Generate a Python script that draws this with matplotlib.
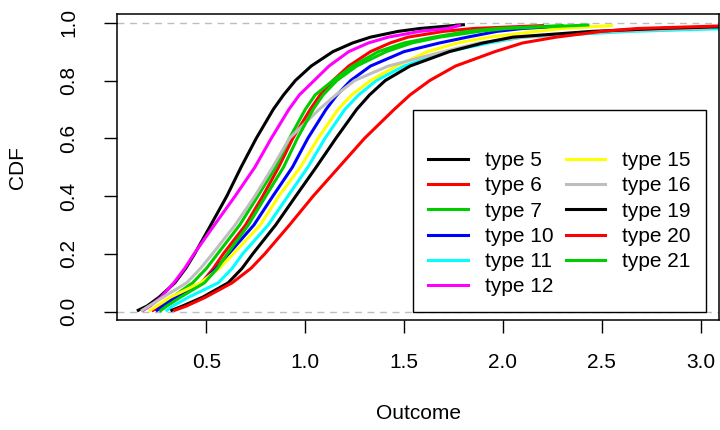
import numpy as np
import matplotlib
matplotlib.use("Agg")
import matplotlib.pyplot as plt

plt.rcParams['font.family'] = ['Liberation Sans', 'DejaVu Sans']

cdf_levels = [0.005, 0.02, 0.05, 0.1, 0.15, 0.2, 0.3, 0.4, 0.5, 0.6,
              0.7, 0.75, 0.8, 0.85, 0.9, 0.93, 0.95, 0.97, 0.98]

labels = ["type 5", "type 6", "type 7", "type 10", "type 11", "type 12",
          "type 15", "type 16", "type 19", "type 20", "type 21"]
colors = ["#000000", "#FF0000", "#00CD00", "#0000FF", "#00FFFF", "#FF00FF",
          "#FFFF00", "#BEBEBE", "#000000", "#FF0000", "#00CD00"]

# outcome value of each type at the cdf levels above
q_type5 = [0.155, 0.20, 0.26, 0.34, 0.395, 0.44, 0.522, 0.603, 0.675, 0.752,
           0.838, 0.89, 0.95, 1.03, 1.14, 1.24, 1.33, 1.47, 1.58]
q_type6 = [0.23, 0.27, 0.35, 0.475, 0.535, 0.585, 0.698, 0.785, 0.865, 0.937,
           1.025, 1.075, 1.14, 1.22, 1.33, 1.43, 1.52, 1.7, 1.85]
q_type7 = [0.266, 0.28, 0.327, 0.43, 0.5, 0.556, 0.668, 0.76, 0.85, 0.92,
           1.0, 1.05, 1.14, 1.24, 1.37, 1.5, 1.65, 1.82, 1.97]
q_type10 = [0.25, 0.28, 0.343, 0.475, 0.55, 0.612, 0.74, 0.836, 0.935, 1.013,
            1.105, 1.16, 1.23, 1.33, 1.5, 1.68, 1.82, 1.97, 2.1]
q_type11 = [0.30, 0.33, 0.409, 0.56, 0.63, 0.683, 0.812, 0.912, 1.013, 1.1,
            1.2, 1.27, 1.36, 1.5, 1.72, 1.93, 2.1, 2.65, 3.15]
q_type12 = [0.18, 0.215, 0.27, 0.335, 0.39, 0.437, 0.54, 0.645, 0.745, 0.828,
            0.917, 0.97, 1.045, 1.12, 1.22, 1.32, 1.42, 1.58, 1.72]
q_type15 = [0.215, 0.25, 0.317, 0.47, 0.565, 0.635, 0.772, 0.866, 0.975, 1.065,
            1.166, 1.235, 1.33, 1.46, 1.62, 1.77, 1.93, 2.17, 2.3]
q_type16 = [0.175, 0.21, 0.28, 0.40, 0.47, 0.53, 0.645, 0.745, 0.835, 0.92,
            1.07, 1.155, 1.25, 1.42, 1.7, 1.88, 2.1, 2.55, 2.95]
q_type19 = [0.325, 0.38, 0.48, 0.61, 0.68, 0.734, 0.85, 0.952, 1.055, 1.155,
            1.26, 1.325, 1.405, 1.53, 1.73, 1.9, 2.05, 2.45, 2.8]
q_type20 = [0.34, 0.40, 0.495, 0.63, 0.725, 0.795, 0.92, 1.04, 1.17, 1.30,
            1.45, 1.53, 1.63, 1.76, 1.96, 2.1, 2.27, 2.5, 2.68]
q_type21 = [0.27, 0.30, 0.368, 0.49, 0.555, 0.605, 0.712, 0.8, 0.89, 0.96,
            1.04, 1.09, 1.16, 1.26, 1.41, 1.54, 1.68, 1.88, 2.02]

quantiles = [q_type5, q_type6, q_type7, q_type10, q_type11, q_type12,
             q_type15, q_type16, q_type19, q_type20, q_type21]

# last point of each curve (largest outcome, its cdf)
end_x = [1.80, 2.2, 2.3, 2.25, 3.3, 1.78, 2.55, 3.05, 3.3, 3.3, 2.43]
end_y = [0.993, 0.99, 0.99, 0.986, 0.982, 0.99, 0.99, 0.982, 0.99, 0.993, 0.992]

fig = plt.figure(figsize=(7.2, 4.3), dpi=100)
ax = fig.add_axes([0.162, 0.2558, 0.8373, 0.7107])

# reference lines at 0 and 1
ax.axhline(0, color="#BEBEBE", lw=1.0, ls=(0, (5, 4)), zorder=1)
ax.axhline(1, color="#BEBEBE", lw=1.0, ls=(0, (5, 4)), zorder=1)

for q, ex, ey, lab, col in zip(quantiles, end_x, end_y, labels, colors):
    xs = q + [ex]
    ys = cdf_levels + [ey]
    ax.plot(xs, ys, color=col, lw=2.2, label=lab, solid_joinstyle="round", zorder=2)

ax.set_xlim(0.0455, 3.096)
ax.set_ylim(-0.0287, 1.0287)
ax.set_xticks([0.5, 1.0, 1.5, 2.0, 2.5, 3.0])
ax.set_xticklabels(["0.5", "1.0", "1.5", "2.0", "2.5", "3.0"])
ax.set_yticks([0.0, 0.2, 0.4, 0.6, 0.8, 1.0])
ax.set_yticklabels(["0.0", "0.2", "0.4", "0.6", "0.8", "1.0"])

for s in ax.spines.values():
    s.set_linewidth(1.1)
ax.tick_params(direction="out", length=9.5, width=1.0, labelsize=15, color="black")
ax.tick_params(axis="x", pad=14)
ax.tick_params(axis="y", pad=18, labelrotation=90)
for t in ax.get_yticklabels():
    t.set_verticalalignment("center")

ax.set_xlabel("Outcome", fontsize=15)
ax.set_ylabel("CDF", fontsize=15)
ax.xaxis.set_label_coords(0.5, -0.307)
ax.xaxis.label.set_verticalalignment("center")
ax.yaxis.set_label_coords(-0.164, 0.5)
ax.yaxis.label.set_verticalalignment("center")

leg = ax.legend(ncol=2, loc="upper left", bbox_to_anchor=(0.491, 0.686),
                borderaxespad=0, title=" ", title_fontsize=15, fontsize=15,
                handlelength=1.9, handletextpad=0.8, columnspacing=0.6,
                labelspacing=0.3, borderpad=0.75, fancybox=False,
                edgecolor="black", framealpha=1)
leg.get_frame().set_linewidth(1.0)
leg.set_zorder(3)

fig.savefig("out.png", dpi=100)
